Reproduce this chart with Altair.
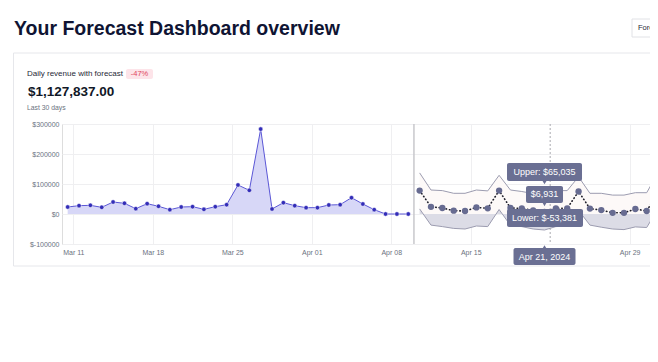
import altair as alt
import pandas as pd

# ---------------- data ----------------
hist_dates = [d.strftime("%Y-%m-%dT12:00:00") for d in pd.date_range("2024-03-10", "2024-04-09")]
hist_values = [23300, 27800, 28900, 22200, 40000, 35600, 17800, 34400, 25600, 14400,
               23300, 24400, 15600, 24400, 31000,
               96700, 78900, 283000, 16700, 37800, 27800, 21100, 21100, 30000, 31000,
               54400, 33300, 14400, 0, 0, 0]

fc_dates = [d.strftime("%Y-%m-%dT12:00:00") for d in pd.date_range("2024-04-10", "2024-05-01")]
fc_values = [78000, 24000, 20000, 11000, 10000, 22000, 19000, 78000, 20000, 19000, 12000,
             6931, 19000, 19000, 75000, 18000, 13000, 4000, 4000, 16700, 10000, 72000]
fc_upper = [137000, 80000, 78000, 69000, 69000, 80000, 77000, 129000, 80000, 75000, 68000,
            65035, 78000, 78000, 124000, 69000, 69000, 63000, 63000, 71000, 71000, 138000]
fc_lower = [17000, -37000, -42000, -48000, -50000, -40000, -42000, 15000, -38000, -42000, -50000,
            -53381, -42000, -40000, 12000, -37000, -44000, -50000, -52000, -43000, -45000, 18000]

x_tick_days = [(3, 11), (3, 18), (3, 25), (4, 1), (4, 8), (4, 15), (4, 29)]
y_ticks = [-100000, 0, 100000, 200000, 300000]

now_date = ["2024-04-10T00:00:00"]
cursor_date = ["2024-04-22T00:00:00"]
hover_date = "2024-04-21T12:00:00"
hover_label = "Apr 21, 2024"

title_text = "Your Forecast Dashboard overview"
card_label = "Daily revenue with forecast"
badge_text = "-47%"
total_text = "$1,127,837.00"
period_text = "Last 30 days"
button_text = "Forecast"

hist = pd.DataFrame({"date": hist_dates, "value": hist_values})
fc = pd.DataFrame({"date": fc_dates, "value": fc_values, "upper": fc_upper, "lower": fc_lower})
hover = fc[fc["date"] == hover_date].copy()
hover["upper_txt"] = hover["upper"].map(lambda v: f"Upper: ${v:,.0f}")
hover["value_txt"] = hover["value"].map(lambda v: f"${v:,.0f}")
hover["lower_txt"] = hover["lower"].map(lambda v: f"Lower: ${v:,.0f}")
hover["date_txt"] = hover_label
hover["axis_bottom"] = y_ticks[0]
now_df = pd.DataFrame({"date": now_date})
cursor_df = pd.DataFrame({"date": cursor_date})

FONT = "Liberation Sans"
TIP = "#6a6f93"
BORDER = "#e6e7eb"

xscale = alt.Scale(domain=[alt.DateTime(year=2024, month=3, date=10),
                           alt.DateTime(year=2024, month=4, date=30, hours=19)])
xaxis = alt.Axis(values=[alt.DateTime(year=2024, month=m, date=d) for m, d in x_tick_days],
                 format="%b %d", domain=False, ticks=False, labelPadding=4,
                 labelFontSize=7, labelColor="#6b7280", labelFont=FONT,
                 gridColor="#efeff1", title=None)
yscale = alt.Scale(domain=[-100000, 300000], nice=False)
yaxis = alt.Axis(values=y_ticks, labelExpr="'$' + datum.value", domain=False, ticks=False,
                 labelPadding=3, labelFontSize=7, labelColor="#6b7280", labelFont=FONT,
                 gridColor="#efeff1", title=None)

X = alt.X("date:T", scale=xscale, axis=xaxis)
def Y(field):
    return alt.Y(f"{field}:Q", scale=yscale, axis=yaxis)

one = alt.Data(values=[{}])

def hline(x0, x1, y, color=BORDER):
    return alt.Chart(one).mark_rule(color=color, strokeWidth=1).encode(
        x=alt.value(x0), x2=alt.value(x1), y=alt.value(y))

def vline(x, y0, y1, color=BORDER):
    return alt.Chart(one).mark_rule(color=color, strokeWidth=1).encode(
        x=alt.value(x), y=alt.value(y0), y2=alt.value(y1))

# ---------------- decorations ----------------
card = [hline(-48.5, 600, -71), hline(-48.5, 600, 142), vline(-48.5, -71, 142)]
title = alt.Chart(one).mark_text(align="left", baseline="alphabetic", font=FONT, fontSize=19.5,
                                 fontWeight="bold", color="#0f1433").encode(
    x=alt.value(-48), y=alt.value(-89), text=alt.value(title_text))
button = [hline(570, 600, -105, "#e1e2e6"), hline(570, 600, -87, "#e1e2e6"), vline(570, -105, -87, "#e1e2e6")]
button_t = alt.Chart(one).mark_text(align="left", baseline="middle", font=FONT, fontSize=7.5,
                                    color="#1f2937").encode(
    x=alt.value(576), y=alt.value(-96), text=alt.value(button_text))
label_t = alt.Chart(one).mark_text(align="left", baseline="middle", font=FONT, fontSize=8,
                                   color="#1f2937").encode(
    x=alt.value(-35), y=alt.value(-50), text=alt.value(card_label))
badge = alt.Chart(one).mark_rect(fill="#fde4e9", cornerRadius=2).encode(
    x=alt.value(64), x2=alt.value(91), y=alt.value(-55), y2=alt.value(-45))
badge_t = alt.Chart(one).mark_text(align="center", baseline="middle", font=FONT, fontSize=7.5,
                                   color="#e04460").encode(
    x=alt.value(77.5), y=alt.value(-50), text=alt.value(badge_text))
total_t = alt.Chart(one).mark_text(align="left", baseline="middle", font=FONT, fontSize=13.5,
                                   fontWeight="bold", color="#111827").encode(
    x=alt.value(-34), y=alt.value(-32.5), text=alt.value(total_text))
period_t = alt.Chart(one).mark_text(align="left", baseline="middle", font=FONT, fontSize=6.8,
                                    color="#6b7280").encode(
    x=alt.value(-35), y=alt.value(-16.5), text=alt.value(period_text))

# ---------------- data layers ----------------
hist_area = alt.Chart(hist).mark_area(color="#d7d7f7", clip=True).encode(
    x=X, y=Y("value"), y2=alt.Y2(datum=0))
hist_line = alt.Chart(hist).mark_line(color="#5b57d6", strokeWidth=1, clip=True).encode(
    x=X, y=Y("value"))
hist_pts = alt.Chart(hist).mark_circle(color="#332db8", size=20, opacity=1,
                                       stroke="white", strokeWidth=0.5).encode(
    x=X, y=Y("value"))

up_area = alt.Chart(fc).mark_area(color="#fdf9f8", clip=True).encode(
    x=X, y=Y("upper"), y2=alt.Y2(datum=0))
lo_area = alt.Chart(fc).mark_area(color="#dcdce6", clip=True).encode(
    x=X, y=Y("lower"), y2=alt.Y2(datum=0))
up_line = alt.Chart(fc).mark_line(color="#9c9cb0", strokeWidth=1, clip=True).encode(
    x=X, y=Y("upper"))
lo_line = alt.Chart(fc).mark_line(color="#9c9cb0", strokeWidth=1, clip=True).encode(
    x=X, y=Y("lower"))
fc_line = alt.Chart(fc).mark_line(color="#1c1c28", strokeWidth=1.6, strokeDash=[0.5, 3],
                                  strokeCap="round", clip=True).encode(x=X, y=Y("value"))
fc_pts = alt.Chart(fc).mark_circle(color="#676b91", size=40, opacity=1).encode(
    x=X, y=Y("value"))

now_rule = alt.Chart(now_df).mark_rule(color="#c8c8cc", strokeWidth=1.5).encode(x=X)
cursor_rule = alt.Chart(cursor_df).mark_rule(color="#a9a9b0", strokeWidth=1,
                                             strokeDash=[2, 2]).encode(x=X)

def box(yfield, y0, y1, x0, x1):
    return alt.Chart(hover).mark_rect(color=TIP, cornerRadius=2, xOffset=x0, x2Offset=x1,
                                      yOffset=y0, y2Offset=y1).encode(
        x=X, x2=alt.X2("date:T"), y=Y(yfield), y2=alt.Y2(yfield))

def btext(yfield, tfield, dy):
    return alt.Chart(hover).mark_text(color="white", font=FONT, fontSize=9, align="center",
                                      baseline="middle", yOffset=dy).encode(
        x=X, y=Y(yfield), text=f"{tfield}:N")

def arrow(yfield, shape, dy):
    return alt.Chart(hover).mark_point(shape=shape, filled=True, color=TIP, size=18,
                                       opacity=1, yOffset=dy).encode(x=X, y=Y(yfield))

tips = [
    box("upper", -31.5, -13.5, -37.5, 37.5), arrow("upper", "triangle-down", -12), btext("upper", "upper_txt", -22.5),
    box("value", -26, -9, -18.5, 18.5), arrow("value", "triangle-down", -7.5), btext("value", "value_txt", -17.5),
    box("lower", -21, -3, -37.5, 38.5), btext("lower", "lower_txt", -12),
    box("axis_bottom", 4, 21, -31, 31), arrow("axis_bottom", "triangle-up", 3), btext("axis_bottom", "date_txt", 12.5),
]

chart = alt.layer(
    *card, title, *button, button_t, label_t, badge, badge_t, total_t, period_t,
    hist_area, up_area, lo_area, up_line, lo_line, hist_line, hist_pts,
    fc_line, fc_pts, now_rule, cursor_rule, *tips
).properties(
    width=588, height=120,
    autosize=alt.AutoSizeParams(type="none"),
    padding={"left": 54, "top": 116, "right": 0, "bottom": 90},
).configure_view(stroke=None).configure(background="white")

chart.save("out.html", embed_options={"renderer": "svg", "actions": False})
